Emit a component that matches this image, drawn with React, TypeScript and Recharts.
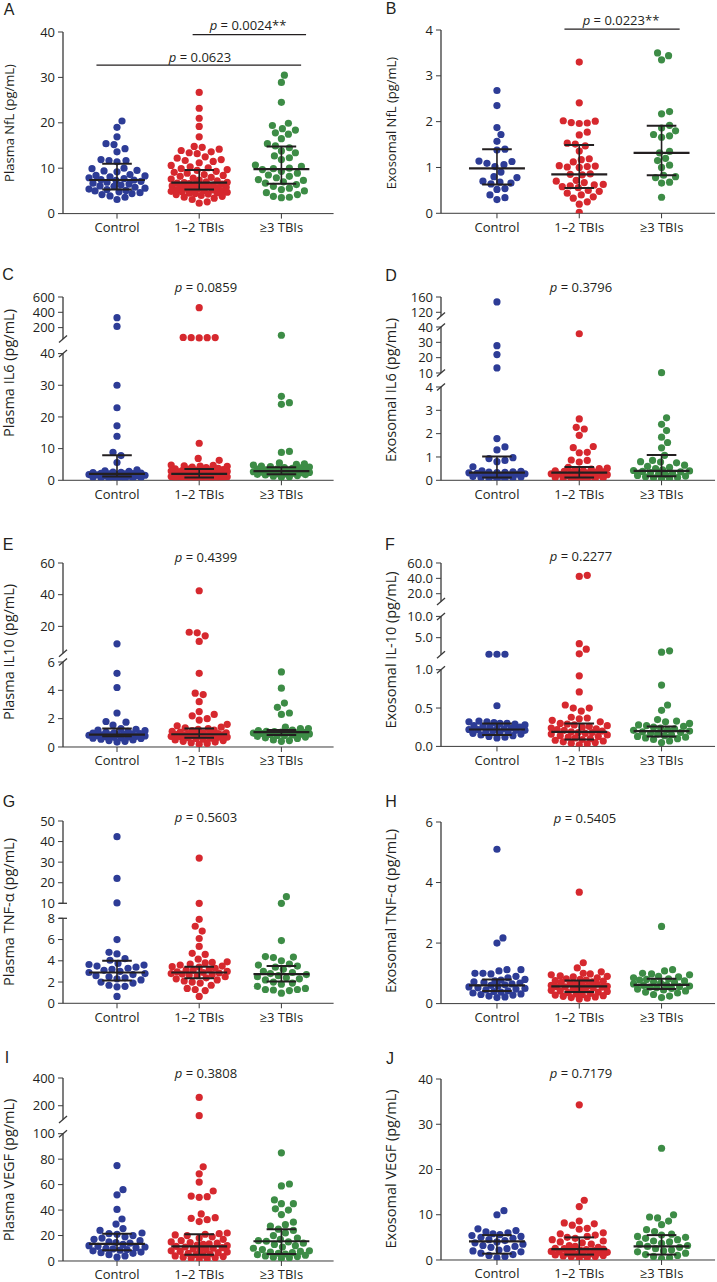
import React from "react";
import { ScatterChart, Scatter, XAxis, YAxis, ReferenceLine } from "recharts";

const FONT = "'Open Sans', 'Noto Sans', sans-serif";
const INK = "#231f20";
const AXIS = "#3a3a3a";

const groups = ["Control", "1–2 TBIs", "≥3 TBIs"];
const groupColors = ["#2d3c96", "#d6282e", "#3d8c46"];

// A: plasma NfL
const plasmaNflControl = [20.4, 19.0, 16.9, 15.4, 15.2, 14.3, 13.6, 11.9, 11.7, 11.7, 11.4, 10.0, 9.9, 9.5, 9.4, 9.2, 8.6, 8.4, 8.3, 8.1, 7.9, 7.7, 7.5, 7.4, 7.3, 7.1, 6.9, 6.7, 6.5, 6.3, 6.1, 6.0, 5.8, 5.6, 5.4, 5.3, 5.1, 5.0, 4.8, 4.6, 4.4, 4.2, 3.9, 3.6, 3.1];
const plasmaNflTbi12 = [26.7, 23.2, 21.0, 19.2, 16.9, 14.8, 14.6, 14.2, 13.9, 13.6, 13.4, 13.2, 12.5, 12.2, 11.9, 11.7, 11.5, 11.2, 10.6, 10.3, 10.1, 9.9, 9.7, 9.5, 9.3, 9.1, 8.9, 8.6, 8.4, 8.2, 8.0, 7.8, 7.6, 7.4, 7.2, 7.0, 6.9, 6.8, 6.7, 6.6, 6.5, 6.4, 6.3, 6.2, 6.1, 6.0, 5.9, 5.8, 5.7, 5.6, 5.5, 5.4, 5.3, 5.2, 5.1, 5.0, 4.9, 4.8, 4.7, 4.6, 4.5, 4.4, 4.3, 4.2, 4.0, 3.8, 3.6, 3.4, 3.1, 2.6, 2.3];
const plasmaNflTbi3 = [30.5, 28.9, 24.5, 19.9, 19.4, 18.7, 18.4, 17.8, 17.5, 16.5, 15.4, 14.9, 14.5, 13.8, 13.4, 12.7, 12.3, 11.9, 10.7, 10.4, 10.0, 9.9, 9.7, 9.3, 8.9, 8.5, 8.2, 7.9, 7.5, 7.3, 7.0, 6.7, 6.4, 6.0, 5.6, 5.3, 5.0, 4.6, 4.2, 3.8, 3.6, 3.5];
const plasmaNflMedian = [7.4, 6.8, 9.8];
const plasmaNflQ1 = [5.3, 5.3, 6.6];
const plasmaNflQ3 = [11.0, 9.6, 14.8];

// B: exosomal NfL
const exoNflControl = [2.68, 2.35, 1.87, 1.72, 1.57, 1.40, 1.38, 1.14, 1.13, 1.09, 1.06, 1.02, 0.90, 0.80, 0.78, 0.70, 0.68, 0.66, 0.64, 0.54, 0.52, 0.40, 0.34, 0.30];
const exoNflTbi12 = [3.30, 2.41, 2.02, 2.01, 1.98, 1.97, 1.96, 1.77, 1.71, 1.53, 1.51, 1.47, 1.36, 1.19, 1.17, 1.12, 1.04, 1.03, 1.02, 1.01, 1.00, 0.86, 0.85, 0.84, 0.72, 0.70, 0.67, 0.63, 0.62, 0.60, 0.58, 0.56, 0.50, 0.48, 0.44, 0.40, 0.36, 0.33, 0.25, 0.20, 0.02];
const exoNflTbi3 = [3.50, 3.44, 3.35, 2.22, 2.17, 1.92, 1.86, 1.80, 1.72, 1.69, 1.66, 1.35, 1.32, 1.20, 1.15, 1.05, 1.00, 0.83, 0.80, 0.78, 0.68, 0.66, 0.35];
const exoNflMedian = [0.98, 0.85, 1.32];
const exoNflQ1 = [0.63, 0.55, 0.83];
const exoNflQ3 = [1.40, 1.49, 1.91];

// C: plasma IL6
const plasmaIl6Control = [330, 215, 30.0, 22.9, 17.2, 13.9, 8.8, 7.8, 5.6, 3.3, 3.0, 2.8, 2.6, 2.5, 2.4, 2.3, 2.2, 2.1, 2.0, 2.0, 1.9, 1.8, 1.7, 1.6, 1.5, 1.4, 1.3, 1.2, 1.1, 1.0, 0.9, 0.8, 0.7, 0.6, 0.5, 0.4];
const plasmaIl6Tbi12 = [460, 72, 70, 69, 68, 66, 11.7, 6.9, 6.3, 4.8, 4.7, 4.6, 4.5, 4.4, 4.2, 4.0, 3.8, 3.6, 3.5, 3.4, 3.3, 3.2, 3.1, 3.0, 2.9, 2.8, 2.7, 2.6, 2.5, 2.4, 2.3, 2.2, 2.1, 2.0, 2.0, 1.9, 1.9, 1.8, 1.8, 1.7, 1.7, 1.6, 1.6, 1.5, 1.5, 1.4, 1.4, 1.3, 1.3, 1.2, 1.2, 1.1, 1.1, 1.0, 1.0, 0.9, 0.9, 0.8, 0.8, 0.7, 0.7, 0.6, 0.5, 0.4, 0.3];
const plasmaIl6Tbi3 = [100, 26.5, 24.5, 24.0, 9.1, 8.8, 5.5, 5.2, 5.0, 4.8, 4.5, 4.3, 4.2, 4.0, 3.9, 3.8, 3.6, 3.5, 3.3, 3.2, 3.0, 2.9, 2.9, 2.8, 2.7, 2.6, 2.5, 2.4, 2.3, 2.2, 2.1, 2.0, 1.9, 1.8, 1.7, 1.5, 1.3, 1.1, 1.0];
const plasmaIl6Median = [2.0, 2.0, 2.9];
const plasmaIl6Q1 = [1.2, 0.9, 1.9];
const plasmaIl6Q3 = [7.9, 3.6, 4.1];

// D: exosomal IL6
const exoIl6Control = [147, 27.8, 22, 13.3, 1.79, 1.43, 1.30, 0.97, 0.93, 0.85, 0.80, 0.58, 0.40, 0.38, 0.36, 0.35, 0.34, 0.33, 0.32, 0.30, 0.28, 0.26, 0.24, 0.22, 0.20, 0.18, 0.16, 0.14, 0.12, 0.10, 0.08, 0.06, 0.05];
const exoIl6Tbi12 = [35.6, 2.63, 2.27, 2.20, 1.93, 1.45, 1.40, 1.20, 1.18, 0.87, 0.85, 0.78, 0.55, 0.52, 0.50, 0.48, 0.45, 0.42, 0.40, 0.38, 0.36, 0.35, 0.34, 0.32, 0.30, 0.28, 0.26, 0.24, 0.22, 0.20, 0.18, 0.16, 0.14, 0.12, 0.10, 0.08, 0.07, 0.05, 0.04, 0.03];
const exoIl6Tbi3 = [10.2, 2.68, 2.40, 2.13, 1.85, 1.62, 1.39, 1.07, 0.85, 0.80, 0.78, 0.75, 0.65, 0.60, 0.55, 0.50, 0.45, 0.42, 0.40, 0.38, 0.36, 0.33, 0.30, 0.27, 0.24, 0.21, 0.18, 0.15, 0.12, 0.10, 0.08, 0.06];
const exoIl6Median = [0.33, 0.33, 0.40];
const exoIl6Q1 = [0.12, 0.12, 0.17];
const exoIl6Q3 = [1.02, 0.57, 1.08];

// E: plasma IL10
const plasmaIl10Control = [9.0, 5.2, 4.2, 2.4, 1.8, 1.75, 1.55, 1.3, 1.25, 1.2, 1.15, 1.1, 1.05, 1.0, 0.98, 0.95, 0.92, 0.9, 0.88, 0.86, 0.85, 0.83, 0.8, 0.78, 0.75, 0.72, 0.7, 0.68, 0.65, 0.62, 0.6, 0.55, 0.5, 0.45, 0.4, 0.35];
const plasmaIl10Tbi12 = [42.5, 16.3, 15.9, 14.0, 10.5, 5.2, 3.8, 3.7, 3.2, 2.5, 2.3, 2.2, 2.0, 1.9, 1.6, 1.5, 1.4, 1.35, 1.3, 1.25, 1.2, 1.15, 1.1, 1.05, 1.0, 1.0, 0.95, 0.95, 0.9, 0.9, 0.88, 0.85, 0.85, 0.82, 0.8, 0.8, 0.78, 0.75, 0.72, 0.7, 0.68, 0.65, 0.62, 0.6, 0.55, 0.5, 0.45, 0.4, 0.35, 0.3, 0.25, 0.2];
const plasmaIl10Tbi3 = [5.3, 4.15, 3.1, 2.8, 2.4, 2.3, 1.4, 1.3, 1.3, 1.2, 1.15, 1.1, 1.08, 1.05, 1.02, 1.0, 1.0, 0.98, 0.95, 0.92, 0.9, 0.88, 0.85, 0.82, 0.8, 0.75, 0.7, 0.65, 0.6, 0.5, 0.45, 0.4];
const plasmaIl10Median = [0.88, 0.9, 1.05];
const plasmaIl10Q1 = [0.75, 0.65, 0.85];
const plasmaIl10Q3 = [1.3, 1.3, 1.2];

// F: exosomal IL-10
const exoIl10Control = [1.1, 1.1, 1.1, 0.53, 0.33, 0.32, 0.32, 0.31, 0.30, 0.30, 0.29, 0.28, 0.27, 0.26, 0.25, 0.25, 0.24, 0.23, 0.23, 0.22, 0.22, 0.21, 0.21, 0.20, 0.20, 0.19, 0.18, 0.17, 0.16, 0.15, 0.14, 0.13, 0.12, 0.11];
const exoIl10Tbi12 = [44, 42.5, 3.6, 2.3, 1.2, 0.92, 0.71, 0.54, 0.50, 0.50, 0.46, 0.38, 0.37, 0.36, 0.34, 0.32, 0.30, 0.29, 0.28, 0.27, 0.26, 0.25, 0.24, 0.23, 0.22, 0.21, 0.20, 0.19, 0.18, 0.18, 0.17, 0.16, 0.15, 0.14, 0.13, 0.12, 0.11, 0.10, 0.09, 0.08, 0.07, 0.06, 0.05, 0.04, 0.03, 0.02];
const exoIl10Tbi3 = [1.9, 1.6, 0.80, 0.54, 0.47, 0.35, 0.33, 0.32, 0.30, 0.28, 0.27, 0.26, 0.25, 0.24, 0.23, 0.22, 0.21, 0.20, 0.19, 0.18, 0.17, 0.16, 0.15, 0.14, 0.13, 0.12, 0.11, 0.10, 0.09, 0.07, 0.05];
const exoIl10Median = [0.22, 0.19, 0.20];
const exoIl10Q1 = [0.15, 0.09, 0.13];
const exoIl10Q3 = [0.30, 0.30, 0.26];

// G: plasma TNF-a
const plasmaTnfControl = [42.4, 22.1, 10.2, 6.0, 4.8, 4.65, 4.2, 4.05, 3.75, 3.65, 3.6, 3.5, 3.4, 3.3, 3.2, 3.1, 3.0, 2.9, 2.8, 2.7, 2.6, 2.5, 2.4, 2.3, 2.2, 2.0, 1.9, 1.7, 1.6, 1.55, 0.65];
const plasmaTnfTbi12 = [32.0, 10.0, 7.9, 7.25, 6.8, 6.1, 5.35, 4.7, 4.6, 4.15, 3.9, 3.85, 3.8, 3.7, 3.6, 3.5, 3.45, 3.4, 3.3, 3.2, 3.15, 3.1, 3.0, 2.95, 2.9, 2.85, 2.8, 2.75, 2.7, 2.65, 2.6, 2.5, 2.4, 2.3, 2.2, 2.1, 2.0, 1.9, 1.7, 1.4, 1.3, 1.2, 0.65];
const plasmaTnfTbi3 = [13.2, 10.0, 5.9, 4.4, 4.35, 4.3, 4.0, 3.7, 3.6, 3.5, 3.4, 3.2, 3.0, 2.9, 2.8, 2.7, 2.6, 2.5, 2.4, 2.3, 2.2, 2.0, 1.9, 1.8, 1.6, 1.4, 1.3, 1.3, 1.25, 1.2, 0.95];
const plasmaTnfMedian = [2.9, 2.9, 2.75];
const plasmaTnfQ1 = [2.15, 2.35, 2.05];
const plasmaTnfQ3 = [4.0, 3.45, 3.5];

// H: exosomal TNF-a
const exoTnfControl = [5.1, 2.17, 2.0, 1.12, 1.12, 1.08, 1.0, 1.0, 0.98, 0.9, 0.85, 0.8, 0.78, 0.75, 0.72, 0.7, 0.68, 0.65, 0.62, 0.6, 0.58, 0.55, 0.52, 0.5, 0.48, 0.45, 0.42, 0.4, 0.38, 0.35, 0.32, 0.3, 0.28, 0.25, 0.22, 0.2];
const exoTnfTbi12 = [3.68, 1.35, 1.18, 1.05, 1.0, 0.98, 0.95, 0.92, 0.9, 0.88, 0.85, 0.82, 0.8, 0.78, 0.76, 0.74, 0.72, 0.7, 0.68, 0.66, 0.64, 0.62, 0.6, 0.58, 0.57, 0.56, 0.55, 0.54, 0.52, 0.5, 0.48, 0.46, 0.44, 0.42, 0.4, 0.38, 0.36, 0.34, 0.32, 0.3, 0.28, 0.26, 0.24, 0.22, 0.2, 0.18, 0.15];
const exoTnfTbi3 = [2.55, 1.12, 1.08, 1.0, 0.98, 0.95, 0.9, 0.88, 0.85, 0.82, 0.8, 0.78, 0.75, 0.72, 0.7, 0.68, 0.65, 0.62, 0.6, 0.58, 0.56, 0.54, 0.52, 0.5, 0.48, 0.45, 0.42, 0.38, 0.35, 0.3, 0.25, 0.2];
const exoTnfMedian = [0.6, 0.57, 0.62];
const exoTnfQ1 = [0.42, 0.38, 0.48];
const exoTnfQ3 = [0.8, 0.76, 0.82];

// I: plasma VEGF
const plasmaVegfControl = [75, 56, 52, 40.5, 33, 29, 25.5, 24, 22, 21.5, 21, 20, 19, 18, 17, 16, 15, 14.5, 14, 13, 12, 11.5, 11, 10.5, 10, 9.5, 9, 8.5, 8, 7, 6.5, 6, 5, 4, 3];
const plasmaVegfTbi12 = [260, 128, 74, 68.5, 62, 55, 51, 50.5, 50, 37, 34, 33.5, 32.5, 31, 22, 21.5, 21, 20.5, 20, 19, 18, 17, 16, 15, 14.5, 14, 13.5, 13, 12.5, 12, 11.5, 11, 10.5, 10, 9.5, 9, 8.5, 8, 7.5, 7, 6.5, 6, 5.5, 5, 4.5, 4, 3.5, 3, 2.5, 2, 1.5, 1];
const plasmaVegfTbi3 = [85, 60.5, 59, 48, 45, 45, 41, 40, 36.5, 30.5, 28.5, 27.5, 25, 24, 22, 20, 18, 17, 16, 15.5, 15, 14, 13, 12, 11, 10, 9, 8, 7.5, 7, 6.5, 6, 5.5, 5, 4.5, 4, 3.5, 3, 2.5, 2];
const plasmaVegfMedian = [13.5, 11.5, 15.5];
const plasmaVegfQ1 = [8.5, 5.0, 5.5];
const plasmaVegfQ3 = [21.5, 21.0, 25.0];

// J: exosomal VEGF
const exoVegfControl = [10.9, 10.0, 6.9, 6.5, 6.2, 6.0, 5.8, 5.6, 5.4, 5.2, 5.0, 4.8, 4.5, 4.3, 4.0, 3.8, 3.5, 3.2, 3.0, 2.8, 2.5, 2.2, 2.0, 1.8, 1.5, 1.2, 1.0, 0.8, 0.5];
const exoVegfTbi12 = [34.3, 13.2, 11.8, 8.6, 8.2, 8.0, 7.7, 7.0, 6.8, 6.0, 5.8, 5.5, 5.2, 5.0, 4.8, 4.5, 4.2, 4.0, 3.8, 3.5, 3.2, 3.0, 2.8, 2.6, 2.5, 2.4, 2.3, 2.2, 2.1, 2.0, 1.9, 1.8, 1.7, 1.6, 1.5, 1.4, 1.3, 1.2, 1.1, 1.0, 0.9, 0.8, 0.7, 0.5, 0.3];
const exoVegfTbi3 = [24.7, 10.0, 9.5, 9.3, 8.6, 7.8, 6.7, 6.3, 5.7, 5.5, 5.2, 5.0, 4.8, 4.5, 4.2, 4.0, 3.7, 3.5, 3.2, 3.0, 2.8, 2.5, 2.2, 2.0, 1.8, 1.5, 1.2, 1.0, 0.8, 0.5, 0.3];
const exoVegfMedian = [4.1, 2.4, 3.0];
const exoVegfQ1 = [1.4, 1.2, 1.2];
const exoVegfQ3 = [5.5, 5.0, 5.5];

// ---- layout ----
type Seg = { lo: number; hi: number; p0: number; p1: number };
type Col = { axisX: number; unit: number; domain: [number, number] };
type PText = { text: string; x: number; y: number };
type Bracket = { x1: number; x2: number; y: number };

const LEFT: Col = { axisX: 62.7, unit: 82.2, domain: [-0.657, 2.635] };
const RIGHT: Col = { axisX: 441.3, unit: 82.3, domain: [-0.68, 2.65] };

interface PanelCfg {
  letter: string;
  letterPos: [number, number];
  col: Col;
  top: number;
  bottom: number;
  segs: Seg[];
  ticks: number[];
  decimals?: number;
  breakStyle?: "slash" | "cap";
  title: string;
  titleSize: number;
  titleY: number;
  values: number[][];
  median: number[];
  q1: number[];
  q3: number[];
  pTexts: PText[];
  brackets?: Bracket[];
}

const panels: PanelCfg[] = [
  {
    letter: "A", letterPos: [9, 10], col: LEFT, top: 31.7, bottom: 213.3,
    segs: [{ lo: 0, hi: 40, p0: 213.3, p1: 31.7 }], ticks: [0, 10, 20, 30, 40],
    title: "Plasma NfL (pg/mL)", titleSize: 13, titleY: 123,
    values: [plasmaNflControl, plasmaNflTbi12, plasmaNflTbi3],
    median: plasmaNflMedian, q1: plasmaNflQ1, q3: plasmaNflQ3,
    pTexts: [{ text: "= 0.0024**", x: 248, y: 25 }, { text: "= 0.0623", x: 200, y: 57 }],
    brackets: [{ x1: 0.92, x2: 2.3, y: 39.4 }, { x1: -0.25, x2: 2.24, y: 32.7 }],
  },
  {
    letter: "B", letterPos: [391, 9], col: RIGHT, top: 30, bottom: 213.3,
    segs: [{ lo: 0, hi: 4, p0: 213.3, p1: 30 }], ticks: [0, 1, 2, 3, 4],
    title: "Exosomal NfL (pg/mL)", titleSize: 13, titleY: 123,
    values: [exoNflControl, exoNflTbi12, exoNflTbi3],
    median: exoNflMedian, q1: exoNflQ1, q3: exoNflQ3,
    pTexts: [{ text: "= 0.0223**", x: 621, y: 20 }],
    brackets: [{ x1: 0.82, x2: 2.22, y: 4.02 }],
  },
  {
    letter: "C", letterPos: [8, 275], col: LEFT, top: 296.7, bottom: 480,
    segs: [{ lo: 0, hi: 40, p0: 480, p1: 353.3 }, { lo: 50, hi: 600, p0: 338.8, p1: 296.7 }],
    ticks: [0, 10, 20, 30, 40, 200, 400, 600], breakStyle: "slash",
    title: "Plasma IL6 (pg/mL)", titleSize: 14.5, titleY: 373,
    values: [plasmaIl6Control, plasmaIl6Tbi12, plasmaIl6Tbi3],
    median: plasmaIl6Median, q1: plasmaIl6Q1, q3: plasmaIl6Q3,
    pTexts: [{ text: "= 0.0859", x: 206, y: 287 }],
  },
  {
    letter: "D", letterPos: [391, 276], col: RIGHT, top: 296.7, bottom: 480,
    segs: [
      { lo: 0, hi: 4, p0: 480, p1: 386.7 },
      { lo: 10, hi: 40, p0: 372.7, p1: 326.7 },
      { lo: 110, hi: 160, p0: 315.8, p1: 296.7 },
    ],
    ticks: [0, 1, 2, 3, 4, 10, 20, 30, 40, 120, 160], breakStyle: "slash",
    title: "Exosomal IL6 (pg/mL)", titleSize: 14.5, titleY: 390,
    values: [exoIl6Control, exoIl6Tbi12, exoIl6Tbi3],
    median: exoIl6Median, q1: exoIl6Q1, q3: exoIl6Q3,
    pTexts: [{ text: "= 0.3796", x: 581, y: 287 }],
  },
  {
    letter: "E", letterPos: [8, 545], col: LEFT, top: 563.3, bottom: 747.3,
    segs: [{ lo: 0, hi: 6, p0: 747.3, p1: 662.3 }, { lo: 3, hi: 60, p0: 653.6, p1: 563.3 }],
    ticks: [0, 2, 4, 6, 20, 40, 60], breakStyle: "slash",
    title: "Plasma IL10 (pg/mL)", titleSize: 14.5, titleY: 652,
    values: [plasmaIl10Control, plasmaIl10Tbi12, plasmaIl10Tbi3],
    median: plasmaIl10Median, q1: plasmaIl10Q1, q3: plasmaIl10Q3,
    pTexts: [{ text: "= 0.4399", x: 206, y: 557 }],
  },
  {
    letter: "F", letterPos: [390, 545], col: RIGHT, top: 563.3, bottom: 746.7,
    segs: [
      { lo: 0, hi: 1, p0: 746.7, p1: 670 },
      { lo: 1, hi: 10, p0: 655, p1: 616.7 },
      { lo: 10, hi: 60, p0: 601.7, p1: 563.3 },
    ],
    ticks: [0, 0.5, 1, 5, 10, 20, 40, 60], decimals: 1, breakStyle: "slash",
    title: "Exosomal IL-10 (pg/mL)", titleSize: 14.5, titleY: 650,
    values: [exoIl10Control, exoIl10Tbi12, exoIl10Tbi3],
    median: exoIl10Median, q1: exoIl10Q1, q3: exoIl10Q3,
    pTexts: [{ text: "= 0.2277", x: 581, y: 556 }],
  },
  {
    letter: "G", letterPos: [9, 802], col: LEFT, top: 821, bottom: 1003.3,
    segs: [{ lo: 0, hi: 8, p0: 1003.3, p1: 918.3 }, { lo: 10, hi: 50, p0: 903.3, p1: 821 }],
    ticks: [0, 2, 4, 6, 8, 10, 20, 30, 40, 50], breakStyle: "cap",
    title: "Plasma TNF-α (pg/mL)", titleSize: 14.5, titleY: 912,
    values: [plasmaTnfControl, plasmaTnfTbi12, plasmaTnfTbi3],
    median: plasmaTnfMedian, q1: plasmaTnfQ1, q3: plasmaTnfQ3,
    pTexts: [{ text: "= 0.5603", x: 206, y: 817 }],
  },
  {
    letter: "H", letterPos: [391, 802], col: RIGHT, top: 821.7, bottom: 1003.3,
    segs: [{ lo: 0, hi: 6, p0: 1003.3, p1: 821.7 }], ticks: [0, 2, 4, 6],
    title: "Exosomal TNF-α (pg/mL)", titleSize: 14.5, titleY: 911,
    values: [exoTnfControl, exoTnfTbi12, exoTnfTbi3],
    median: exoTnfMedian, q1: exoTnfQ1, q3: exoTnfQ3,
    pTexts: [{ text: "= 0.5405", x: 585, y: 818 }],
  },
  {
    letter: "I", letterPos: [7, 1058], col: LEFT, top: 1078.3, bottom: 1261.3,
    segs: [{ lo: 0, hi: 100, p0: 1261.3, p1: 1134 }, { lo: 100, hi: 400, p0: 1119.9, p1: 1078.3 }],
    ticks: [0, 20, 40, 60, 80, 100, 200, 400], breakStyle: "slash",
    title: "Plasma VEGF (pg/mL)", titleSize: 14.5, titleY: 1170,
    values: [plasmaVegfControl, plasmaVegfTbi12, plasmaVegfTbi3],
    median: plasmaVegfMedian, q1: plasmaVegfQ1, q3: plasmaVegfQ3,
    pTexts: [{ text: "= 0.3808", x: 206, y: 1073 }],
  },
  {
    letter: "J", letterPos: [390, 1059], col: RIGHT, top: 1079, bottom: 1260,
    segs: [{ lo: 0, hi: 40, p0: 1260, p1: 1079 }], ticks: [0, 10, 20, 30, 40],
    title: "Exosomal VEGF (pg/mL)", titleSize: 14.5, titleY: 1169,
    values: [exoVegfControl, exoVegfTbi12, exoVegfTbi3],
    median: exoVegfMedian, q1: exoVegfQ1, q3: exoVegfQ3,
    pTexts: [{ text: "= 0.7179", x: 581, y: 1073 }],
  },
];

const YW = 50;
const MT = 12;
const XH = 28;
const DOT_R = 3.6;

// value -> height above the x axis, following the broken-axis segments
function makeScale(segs: Seg[], bottom: number) {
  return (v: number) => {
    for (let i = 0; i < segs.length; i++) {
      const s = segs[i];
      if (v <= s.hi) {
        if (v >= s.lo || i === 0) return bottom - (s.p0 + ((v - s.lo) / (s.hi - s.lo)) * (s.p1 - s.p0));
        const prev = segs[i - 1];
        const f = (v - prev.hi) / (s.lo - prev.hi);
        return bottom - (prev.p1 + f * (s.p0 - prev.p1));
      }
    }
    const s = segs[segs.length - 1];
    return bottom - (s.p0 + ((v - s.lo) / (s.hi - s.lo)) * (s.p1 - s.p0));
  };
}

// simple beeswarm: horizontal pixel offsets so dots don't pile up
function swarm(ts: number[]): number[] {
  const D = 7.8;
  const MAXW = 28;
  const order = ts.map((_, i) => i).sort((a, b) => ts[a] - ts[b]);
  const placed: [number, number][] = [];
  const out = new Array(ts.length).fill(0);
  for (const i of order) {
    const y = ts[i];
    let best = 0;
    let bestD = -1;
    for (let k = 0; k <= 2 * MAXW; k++) {
      const off = k === 0 ? 0 : (k % 2 ? 1 : -1) * Math.ceil(k / 2);
      let md = Infinity;
      for (const [px, py] of placed) {
        const dy = py - y;
        if (Math.abs(dy) >= D) continue;
        const d = Math.hypot(px - off, dy);
        if (d < md) md = d;
      }
      if (md >= D) {
        best = off;
        bestD = md;
        break;
      }
      if (md > bestD) {
        bestD = md;
        best = off;
      }
    }
    out[i] = best;
    placed.push([best, y]);
  }
  return out;
}

function Panel({ p }: { p: PanelCfg }) {
  const H = p.bottom - p.top;
  const col = p.col;
  const plotW = (col.domain[1] - col.domain[0]) * col.unit;
  const scale = makeScale(p.segs, p.bottom);
  const xmin = col.domain[0];
  const dxu = 4 / col.unit;

  const tickTs = p.ticks.map(scale);
  const fmt = (v: number) => {
    const i = tickTs.findIndex((t) => Math.abs(t - v) < 0.01);
    if (i < 0) return "";
    return p.decimals ? p.ticks[i].toFixed(p.decimals) : String(p.ticks[i]);
  };

  const series = p.values.map((vals, gi) => {
    const ts = vals.map(scale);
    const offs = swarm(ts);
    return ts.map((t, j) => ({ x: gi + offs[j] / col.unit, y: t }));
  });

  // median + IQR per group; the y axis runs 1 px per unit, so the caps sit at (y - q) px from the median
  const stats = [0, 1, 2].map((gi) => ({
    x: gi,
    y: scale(p.median[gi]),
    lo: scale(p.q1[gi]),
    hi: scale(p.q3[gi]),
  }));
  const medHalf = 0.34 * col.unit;
  const capHalf = 0.18 * col.unit;
  const StatShape = (props: any) => {
    const { cx, cy, payload } = props;
    const yl = cy + (payload.y - payload.lo);
    const yh = cy - (payload.hi - payload.y);
    return (
      <g stroke={INK} fill="none">
        <line x1={cx} y1={yl} x2={cx} y2={yh} strokeWidth={1.6} />
        <line x1={cx - capHalf} y1={yl} x2={cx + capHalf} y2={yl} strokeWidth={2} />
        <line x1={cx - capHalf} y1={yh} x2={cx + capHalf} y2={yh} strokeWidth={2} />
        <line x1={cx - medHalf} y1={cy} x2={cx + medHalf} y2={cy} strokeWidth={2.2} />
      </g>
    );
  };

  const lines: React.ReactNode[] = [];
  const seg = (key: string, x1: number, y1: number, x2: number, y2: number, w: number, c: string) =>
    lines.push(
      <ReferenceLine
        key={key}
        segment={[{ x: x1, y: y1 }, { x: x2, y: y2 }]}
        stroke={c}
        strokeWidth={w}
        ifOverflow="visible"
      />
    );

  // axis line pieces and break marks
  p.segs.forEach((s, i) => {
    seg(`ax${i}`, xmin, p.bottom - s.p0, xmin, p.bottom - s.p1, 1.3, AXIS);
    const marks: number[] = [];
    if (i < p.segs.length - 1) marks.push(p.bottom - s.p1);
    if (i > 0) marks.push(p.bottom - s.p0);
    marks.forEach((t, m) => {
      if (p.breakStyle === "cap") seg(`br${i}${m}`, xmin - dxu, t, xmin + dxu, t, 1.3, AXIS);
      else seg(`br${i}${m}`, xmin - dxu, t - 3.5, xmin + dxu, t + 3.5, 1.3, AXIS);
    });
  });

  (p.brackets || []).forEach((br, i) => seg(`bk${i}`, br.x1, scale(br.y), br.x2, scale(br.y), 1.2, INK));

  return (
    <div style={{ position: "absolute", left: col.axisX - YW, top: p.top - MT }}>
      <ScatterChart
        width={YW + plotW + 1}
        height={MT + H + XH}
        margin={{ top: MT, right: 1, bottom: 0, left: 0 }}
      >
        <XAxis
          type="number"
          dataKey="x"
          domain={col.domain}
          allowDataOverflow
          ticks={[0, 1, 2]}
          interval={0}
          tickFormatter={(v: number) => groups[v] ?? ""}
          height={XH}
          tickSize={5}
          tickMargin={4}
          stroke={AXIS}
          tick={{ fill: INK, fontSize: 13, fontFamily: FONT }}
        />
        <YAxis
          type="number"
          dataKey="y"
          domain={[0, H]}
          allowDataOverflow
          ticks={tickTs}
          interval={0}
          tickFormatter={fmt}
          width={YW}
          axisLine={false}
          tickSize={5}
          tickMargin={3}
          stroke={AXIS}
          tick={{ fill: INK, fontSize: 13, fontFamily: FONT }}
        />
        {lines}
        {series.map((data, gi) => (
          <Scatter
            key={gi}
            data={data}
            fill={groupColors[gi]}
            isAnimationActive={false}
            shape={(props: any) => <circle cx={props.cx} cy={props.cy} r={DOT_R} fill={groupColors[gi]} />}
          />
        ))}
        <Scatter data={stats} fill={INK} isAnimationActive={false} shape={StatShape} />
      </ScatterChart>
    </div>
  );
}

const center: React.CSSProperties = {
  position: "absolute",
  transform: "translate(-50%, -50%)",
  whiteSpace: "nowrap",
  lineHeight: 1,
  fontFamily: FONT,
  color: INK,
};

export default function App() {
  return (
    <div style={{ position: "absolute", left: 0, top: 0, width: 717, height: 1282, overflow: "hidden", background: "#fff" }}>
      {panels.map((p) => (
        <Panel key={p.letter} p={p} />
      ))}
      {panels.map((p) => (
        <React.Fragment key={`t${p.letter}`}>
          <div style={{ ...center, left: p.letterPos[0], top: p.letterPos[1], fontSize: 16, fontFamily: "'Liberation Sans', Arial, sans-serif" }}>
            {p.letter}
          </div>
          <div
            style={{
              ...center,
              left: p.col === LEFT ? 9 : 391,
              top: p.titleY,
              fontSize: p.titleSize,
              transform: "translate(-50%, -50%) rotate(-90deg)",
            }}
          >
            {p.title}
          </div>
          {p.pTexts.map((t, i) => (
            <div key={i} style={{ ...center, left: t.x, top: t.y, fontSize: 13 }}>
              <span style={{ fontStyle: "italic" }}>p</span> {t.text}
            </div>
          ))}
        </React.Fragment>
      ))}
    </div>
  );
}
